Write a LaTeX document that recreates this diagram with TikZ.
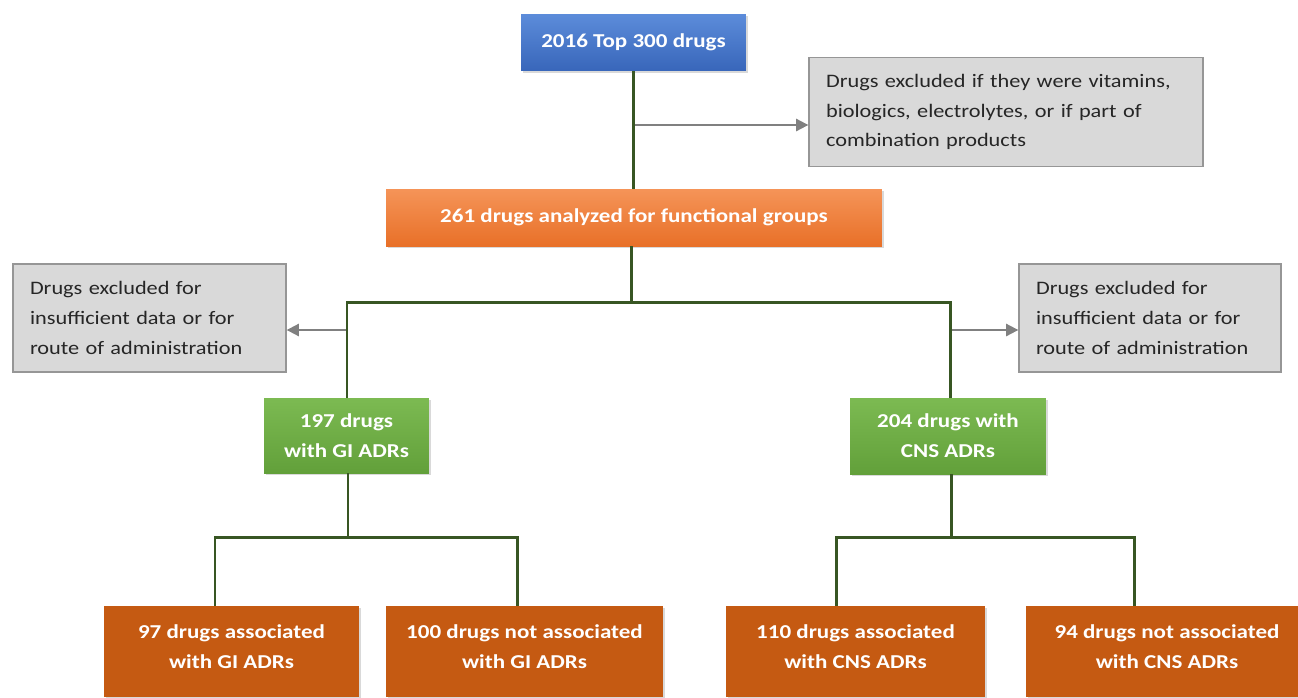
\documentclass[tikz,border=0pt]{standalone}
\usepackage{fontspec}
\setmainfont[FakeStretch=1.17]{Carlito}
\usetikzlibrary{arrows.meta,positioning,shadows}
\definecolor{topblueA}{RGB}{92,140,218}
\definecolor{topblueB}{RGB}{56,102,186}
\definecolor{anaorA}{RGB}{245,148,88}
\definecolor{anaorB}{RGB}{232,112,40}
\definecolor{adrgreenA}{RGB}{124,186,82}
\definecolor{adrgreenB}{RGB}{98,160,58}
\definecolor{resorange}{RGB}{197,90,18}
\definecolor{exclfill}{RGB}{217,217,217}
\definecolor{excldraw}{RGB}{150,150,150}
\definecolor{linkgreen}{RGB}{56,86,35}
\definecolor{arrowgray}{RGB}{128,128,128}
\tikzset{
  boxbase/.style={rectangle, inner sep=0pt, align=center, text=white,
                  font=\bfseries\fontsize{11.2}{17}\selectfont,
                  drop shadow={opacity=0.3, shadow xshift=1.2pt, shadow yshift=-1.2pt}},
  bluebox/.style={boxbase, top color=topblueA, bottom color=topblueB},
  anabox/.style={boxbase, top color=anaorA, bottom color=anaorB},
  adrbox/.style={boxbase, top color=adrgreenA, bottom color=adrgreenB},
  resbox/.style={boxbase, fill=resorange, minimum height=1.82cm},
  exclbox/.style={rectangle, fill=exclfill, draw=excldraw, line width=0.8pt,
                  inner xsep=0.34cm, inner ysep=0pt, align=left, text=black!85,
                  font=\fontsize{10.85}{17}\selectfont},
  link/.style={draw=linkgreen, line width=1.7pt},
  exclarrow/.style={draw=arrowgray, line width=1.1pt,
                    -{Triangle[length=7pt, width=7pt]}},
}

\begin{document}
\begin{tikzpicture}[x=0.02cm, y=-0.02cm]
  \useasboundingbox (0,0) rectangle (1298,697);

  % main chain
  \node[bluebox, minimum width=4.5cm, minimum height=1.14cm] (top) at (633.5,42.5) {2016 Top 300 drugs};
  \node[anabox, minimum width=9.92cm, minimum height=1.14cm] (analyzed) at (634,217.5) {261 drugs analyzed for functional groups};

  % exclusions
  \node[exclbox, minimum width=7.88cm, minimum height=2.18cm, text width=7.2cm] (exclfirst) at (1006,112)
    {Drugs excluded if they were vitamins,\\ biologics, electrolytes, or if part of\\ combination products};
  \node[exclbox, minimum width=5.46cm, minimum height=2.16cm, text width=4.78cm] (exclgi) at (149.5,318)
    {Drugs excluded for\\ insufficient data or for\\ route of administration};
  \node[exclbox, minimum width=5.24cm, minimum height=2.16cm, text width=4.56cm] (exclcns) at (1150,318)
    {Drugs excluded for\\ insufficient data or for\\ route of administration};

  % ADR groups
  \node[adrbox, minimum width=3.3cm, minimum height=1.5cm] (gi) at (346.5,435.5) {197 drugs\\ with GI ADRs};
  \node[adrbox, minimum width=3.92cm, minimum height=1.52cm] (cns) at (948,436) {204 drugs with\\ CNS ADRs};

  % results
  \node[resbox, minimum width=5.1cm] (giyes) at (231.5,651.5) {97 drugs associated\\ with GI ADRs\\[-11.4pt]};
  \node[resbox, minimum width=5.54cm] (gino) at (524.5,651.5) {100 drugs not associated\\ with GI ADRs\\[-11.4pt]};
  \node[resbox, minimum width=5.18cm] (cnsyes) at (855.5,651.5) {110 drugs associated\\ with CNS ADRs\\[-11.4pt]};
  \node[resbox, minimum width=5.64cm] (cnsno) at (1167,651.5) {94 drugs not associated\\ with CNS ADRs\\[-11.4pt]};

  % junctions
  \coordinate (forkfirst) at (633,125);
  \coordinate (split) at (631,302);
  \coordinate (forkgi) at (347,330);
  \coordinate (forkcns) at (950,330);
  \coordinate (giL) at (215,537);
  \coordinate (giR) at (517,537);
  \coordinate (cnsL) at (836,537);
  \coordinate (cnsR) at (1134,537);

  % grey arrows to the exclusions
  \draw[exclarrow] (forkfirst) -- (forkfirst -| exclfirst.west);
  \draw[exclarrow] (forkgi) -- (forkgi -| exclgi.east);
  \draw[exclarrow] (forkcns) -- (forkcns -| exclcns.west);

  % green links
  \draw[link] (top.south -| forkfirst) -- (analyzed.north -| forkfirst);
  \draw[link] (analyzed.south -| split) -- (split);
  \draw[link] (gi.north -| forkgi) |- (split) -| (cns.north -| forkcns);
  \draw[link] (gi.south -| 348,0) -- (348,537);
  \draw[link] (giL |- giyes.north) |- (giR) -- (giR |- gino.north);
  \draw[link] (cns.south -| 951,0) -- (951,537);
  \draw[link] (cnsL |- cnsyes.north) |- (cnsR) -- (cnsR |- cnsno.north);
\end{tikzpicture}
\end{document}
